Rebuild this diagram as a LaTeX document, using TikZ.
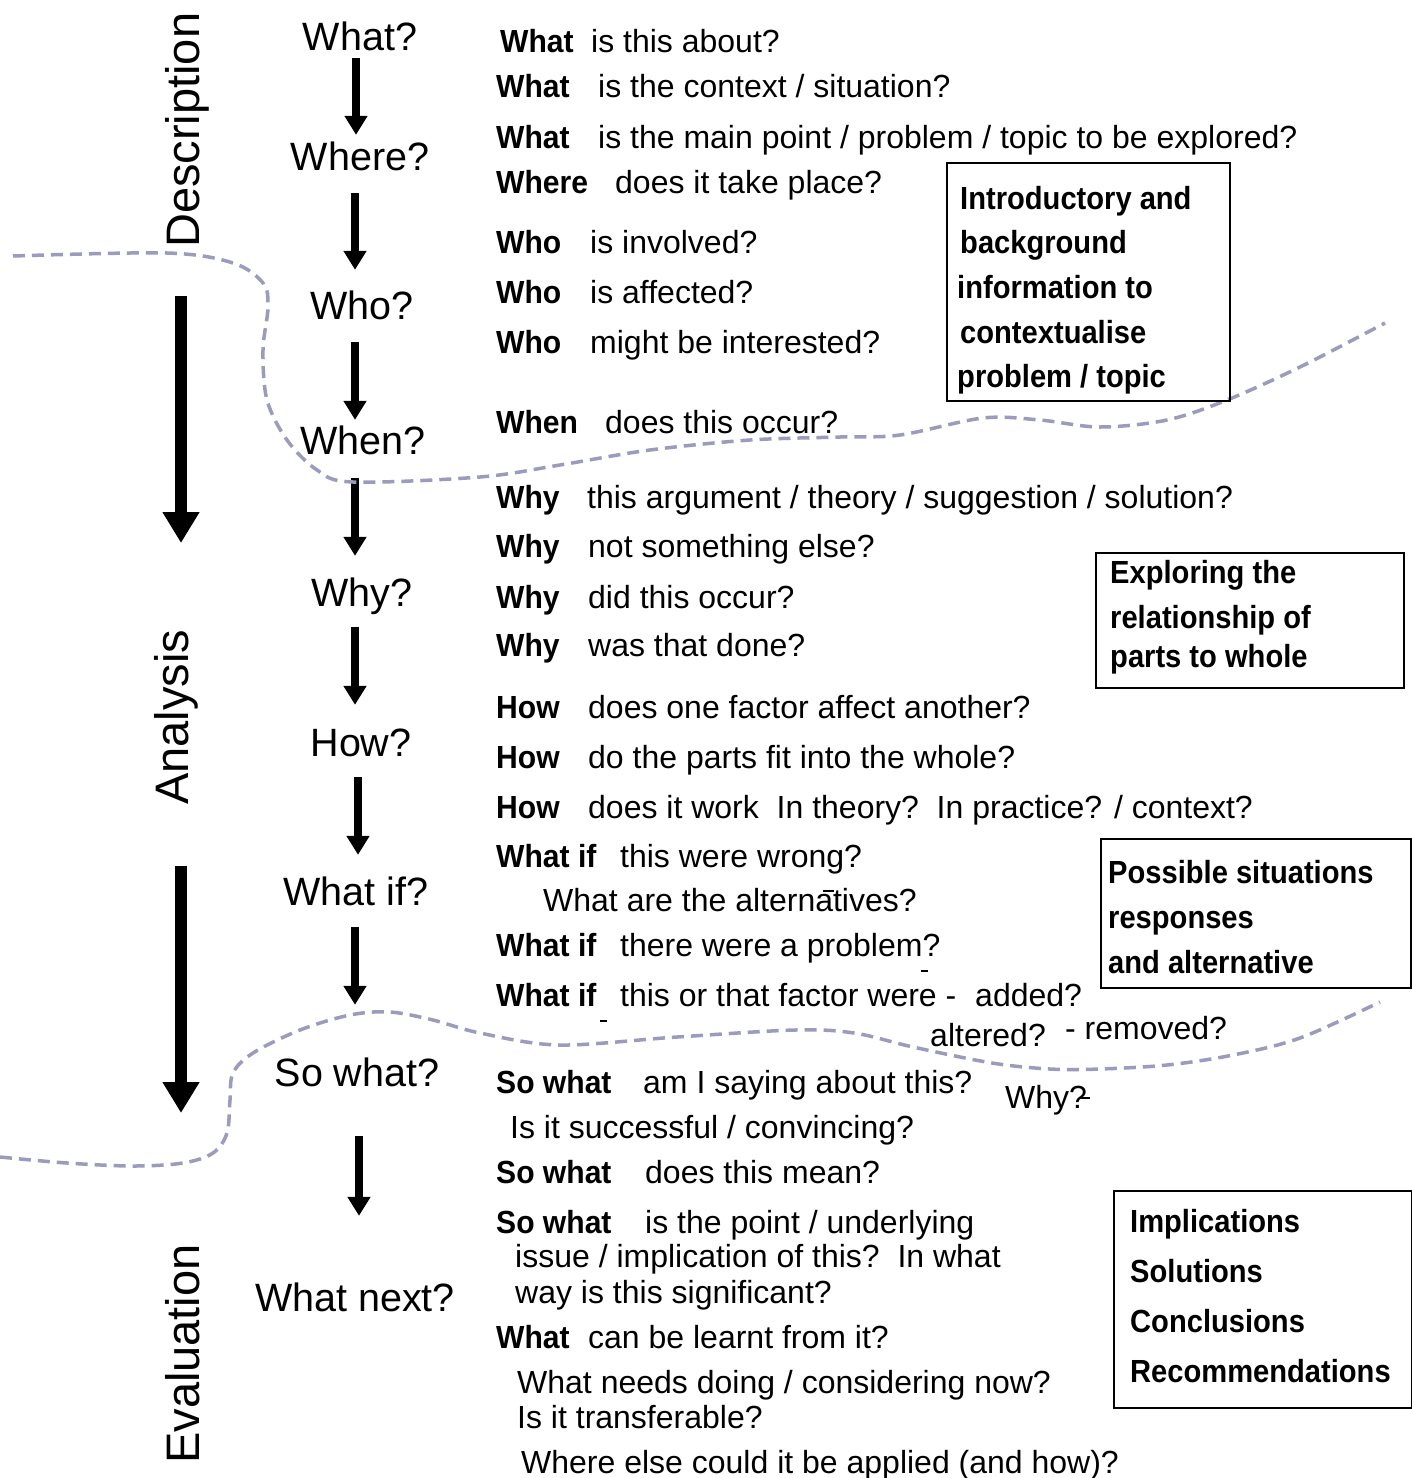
\documentclass[tikz,border=0pt]{standalone}
\usepackage{fontspec}
\setmainfont{Liberation Sans}
\newfontfamily\boxfont{Liberation Sans}[FakeStretch=0.91]
\newfontfamily\kwfont{Liberation Sans}[FakeStretch=0.94]
\usetikzlibrary{arrows.meta}
\definecolor{dashcol}{RGB}{155,155,190}
\begin{document}
\begin{tikzpicture}[x=1pt,y=-1pt,
  txt/.style={inner sep=0pt, anchor=base west, font=\fontsize{32}{38}\selectfont},
  kw/.style={inner sep=0pt, anchor=base west, font=\kwfont\fontsize{32}{38}\selectfont\bfseries},
  lbl/.style={inner sep=0pt, anchor=base, font=\fontsize{39.5}{46}\selectfont, text height=28pt, text depth=0pt},
  phase/.style={inner sep=0pt, anchor=base west, rotate=90, font=\fontsize{47}{56}\selectfont},
  bx/.style={draw, line width=2pt, inner sep=0pt, anchor=north west},
  bt/.style={inner sep=0pt, anchor=base west, font=\boxfont\fontsize{32}{38}\selectfont\bfseries},
  sarr/.style={line width=8pt, -{Triangle[width=22pt,length=19pt]}},
  barr/.style={line width=12pt, -{Triangle[width=35pt,length=31pt]}},
  divider/.style={dashcol, line width=3.5pt, dash pattern=on 12pt off 7pt},
  tick/.style={line width=2pt}
]
\path[use as bounding box, fill=white] (0,0) rectangle (1412,1478);

% phase labels
\node[phase] (desc) at (199,248) {Description};
\node[phase] (anal) at (188,805) {Analysis};
\node[phase] (eval) at (199,1464) {Evaluation};

% big phase arrows
\coordinate (b1s) at (181,296);
\coordinate (b1e) at (181,543);
\coordinate (b2s) at (181,866);
\coordinate (b2e) at (181,1113);
\draw[barr] (b1s) -- (b1e);
\draw[barr] (b2s) -- (b2e);

% question column
\node[lbl] (what) at (360,50) {What?};
\node[lbl] (where) at (360,170) {Where?};
\node[lbl] (who) at (362,319) {Who?};
\node[lbl] (when) at (363,454) {When?};
\node[lbl] (why) at (362,606) {Why?};
\node[lbl] (how) at (361,756) {How?};
\node[lbl] (whatif) at (356,905) {What if?};
\node[lbl] (sowhat) at (357,1086) {So what?};
\node[lbl] (whatnext) at (355,1311) {What next?};

\draw[sarr] ([xshift=-4pt,yshift=-8pt]what.south) -- ([xshift=-4pt,yshift=7pt]where.north);
\draw[sarr] ([xshift=-5pt,yshift=-23pt]where.south) -- ([xshift=-7pt,yshift=21pt]who.north);
\draw[sarr] ([xshift=-7pt,yshift=-23pt]who.south) -- ([xshift=-8pt,yshift=6pt]when.north);
\draw[sarr] ([xshift=-8pt,yshift=-24pt]when.south) -- ([xshift=-7pt,yshift=22pt]why.north);
\draw[sarr] ([xshift=-7pt,yshift=-21pt]why.south) -- ([xshift=-6pt,yshift=23pt]how.north);
\draw[sarr] ([xshift=-3pt,yshift=-21pt]how.south) -- ([xshift=2pt,yshift=22pt]whatif.north);
\draw[sarr] ([xshift=-1pt,yshift=-22pt]whatif.south) -- ([xshift=-2pt,yshift=53pt]sowhat.north);
\draw[sarr] ([xshift=2pt,yshift=-50pt]sowhat.south) -- ([xshift=4pt,yshift=67pt]whatnext.north);

% dashed dividers
\draw[divider] plot[smooth, tension=0.55] coordinates {(13,256) (167,253) (233,263) (263,283) (268,307) (263,350) (267,400) (287,440) (317,470) (353,482) (480,477) (560,465) (650,450) (750,440) (840,437) (900,435) (983,418) (1040,420) (1100,427) (1167,420) (1227,400) (1300,367) (1385,323)};
\draw[divider] plot[smooth, tension=0.55] coordinates {(0,1157) (67,1163) (133,1166) (183,1163) (213,1153) (227,1133) (230,1100) (233,1073) (253,1053) (300,1030) (350,1015) (390,1012) (433,1020) (480,1033) (559,1045) (677,1037) (795,1030) (854,1033) (913,1047) (992,1063) (1050,1069) (1100,1069) (1167,1065) (1233,1055) (1300,1038) (1380,1002)};

% question lines
\node[kw] (k1) at (500,52) {What};   \node[txt] (r1) at (591,52) {is this about?};
\node[kw] (k2) at (496,97) {What};   \node[txt] (r2) at (598,97) {is the context / situation?};
\node[kw] (k3) at (496,148) {What};  \node[txt] (r3) at (598,148) {is the main point / problem / topic to be explored?};
\node[kw] (k4) at (496,193) {Where}; \node[txt] (r4) at (615,193) {does it take place?};
\node[kw] (k5) at (496,253) {Who};   \node[txt] (r5) at (590,253) {is involved?};
\node[kw] (k6) at (496,303) {Who};   \node[txt] (r6) at (590,303) {is affected?};
\node[kw] (k7) at (496,353) {Who};   \node[txt] (r7) at (590,353) {might be interested?};
\node[kw] (k8) at (496,433) {When};  \node[txt] (r8) at (605,433) {does this occur?};
\node[kw] (k9) at (496,508) {Why};   \node[txt] (r9) at (587,508) {this argument / theory / suggestion / solution?};
\node[kw] (k10) at (496,557) {Why};  \node[txt] (r10) at (588,557) {not something else?};
\node[kw] (k11) at (496,608) {Why};  \node[txt] (r11) at (588,608) {did this occur?};
\node[kw] (k12) at (496,656) {Why};  \node[txt] (r12) at (588,656) {was that done?};
\node[kw] (k13) at (496,718) {How};  \node[txt] (r13) at (588,718) {does one factor affect another?};
\node[kw] (k14) at (496,768) {How};  \node[txt] (r14) at (588,768) {do the parts fit into the whole?};
\node[kw] (k15) at (496,818) {How};  \node[txt] (r15) at (588,818) {does it work\ \ In theory?\ \ In practice? / context?};
\node[kw] (k16) at (496,867) {What if}; \node[txt] (r16) at (620,867) {this were wrong?};
\node[txt] (r17) at (543,911) {What are the alternatives?};
\node[kw] (k18) at (496,956) {What if}; \node[txt] (r18) at (620,956) {there were a problem?};
\node[kw] (k19) at (496,1006) {What if}; \node[txt] (r19) at (620,1006) {this or that factor were -};
\node[txt] (r19b) at (975,1006) {added?};
\node[txt] (r20) at (930,1046) {altered?};
\node[txt] (r20b) at (1065,1039) {- removed?};
\node[kw] (k21) at (496,1093) {So what}; \node[txt] (r21) at (643,1093) {am I saying about this?};
\node[txt] (r22) at (1005,1108) {Why?};
\node[txt] (r23) at (510,1138) {Is it successful / convincing?};
\node[kw] (k24) at (496,1183) {So what}; \node[txt] (r24) at (645,1183) {does this mean?};
\node[kw] (k25) at (496,1233) {So what}; \node[txt] (r25) at (645,1233) {is the point / underlying};
\node[txt] (r26) at (515,1267) {issue / implication of this?\ \ In what};
\node[txt] (r27) at (515,1303) {way is this significant?};
\node[kw] (k28) at (496,1348) {What}; \node[txt] (r28) at (588,1348) {can be learnt from it?};
\node[txt] (r29) at (517,1393) {What needs doing / considering now?};
\node[txt] (r30) at (517,1428) {Is it transferable?};
\node[txt] (r31) at (521,1473) {Where else could it be applied (and how)?};

% stray marks
\draw[tick] (823,891) -- (834,891);
\draw[tick] (921,971) -- (928,971);
\draw[tick] (600,1021) -- (607,1021);
\draw[tick] (1080,1098) -- (1090,1098);

% boxes
\node[bx, minimum width=283pt, minimum height=238pt] (box1) at (946,162) {};
\node[bt] (p1a) at (960,209) {Introductory and};
\node[bt] (p1b) at (960,253) {background};
\node[bt] (p1c) at (957,298) {information to};
\node[bt] (p1d) at (960,343) {contextualise};
\node[bt] (p1e) at (957,387) {problem / topic};

\node[bx, minimum width=308pt, minimum height=135pt] (box2) at (1095,552) {};
\node[bt] (p2a) at (1110,583) {Exploring the};
\node[bt] (p2b) at (1110,628) {relationship of};
\node[bt] (p2c) at (1110,667) {parts to whole};

\node[bx, minimum width=310pt, minimum height=149pt] (box3) at (1100,838) {};
\node[bt] (p3a) at (1108,883) {Possible situations};
\node[bt] (p3b) at (1108,928) {responses};
\node[bt] (p3c) at (1108,973) {and alternative};

\node[bx, minimum width=298pt, minimum height=217pt] (box4) at (1113,1190) {};
\node[bt] (p4a) at (1130,1232) {Implications};
\node[bt] (p4b) at (1130,1282) {Solutions};
\node[bt] (p4c) at (1130,1332) {Conclusions};
\node[bt] (p4d) at (1130,1382) {Recommendations};
\end{tikzpicture}
\end{document}
